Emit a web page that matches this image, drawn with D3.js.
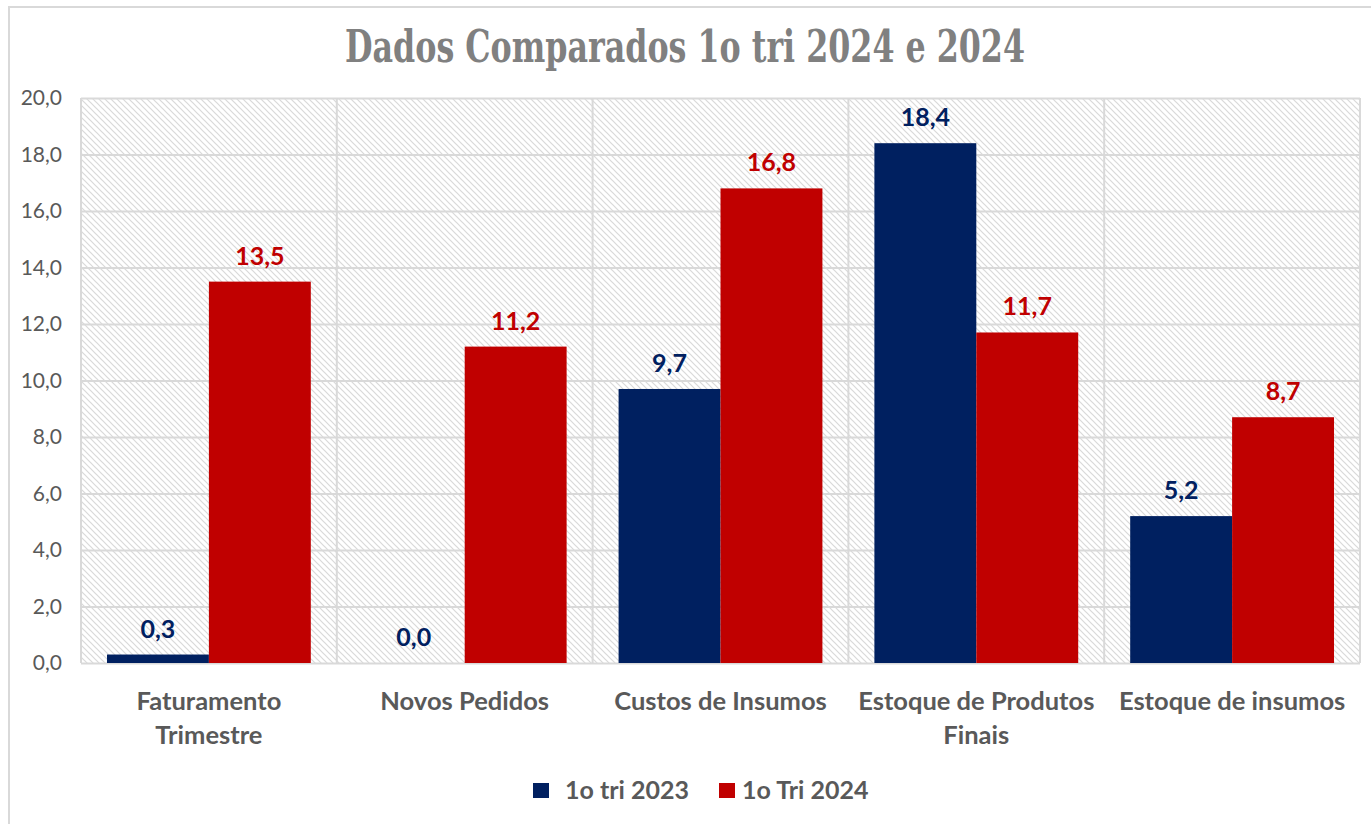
<!DOCTYPE html>
<html>
<head>
  <meta charset="utf-8">
  <title>Dados Comparados</title>
  <script src="https://d3js.org/d3.v7.min.js"></script>
  <style>
    body { margin: 0; background: #fff; }
  </style>
</head>
<body>
  <div id="chart"></div>
<script>
  // data
  const categories = [
    ["Faturamento", "Trimestre"],
    ["Novos Pedidos"],
    ["Custos de Insumos"],
    ["Estoque de Produtos", "Finais"],
    ["Estoque de insumos"]
  ];
  const seriesNames = ["1o tri 2023", "1o Tri 2024"];
  const values2023 = [0.3, 0.0, 9.7, 18.4, 5.2];
  const values2024 = [13.5, 11.2, 16.8, 11.7, 8.7];
  const yTicks = [0, 2, 4, 6, 8, 10, 12, 14, 16, 18, 20];
  const colors = ["#002060", "#C00000"];

  const W = 1371, H = 824;
  const plot = {left: 81, right: 1360, top: 98, bottom: 663};
  const font = "Lato, 'Open Sans', sans-serif";

  const svg = d3.select("#chart").append("svg")
    .attr("width", W).attr("height", H);

  // hatch pattern for the plot background
  const defs = svg.append("defs");
  const pat = defs.append("pattern")
    .attr("id", "hatch")
    .attr("patternUnits", "userSpaceOnUse")
    .attr("width", 6).attr("height", 6);
  pat.append("rect").attr("width", 6).attr("height", 6).attr("fill", "#fff");
  pat.append("path")
    .attr("d", "M-1,-1 L7,7 M-1,5 L1,7 M5,-1 L7,1")
    .attr("stroke", "#d9d9d9")
    .attr("stroke-width", 1.2);

  // outer chart border
  svg.append("path")
    .attr("d", `M9,${H} L9,7 L${W},7`)
    .attr("fill", "none")
    .attr("stroke", "#d9d9d9")
    .attr("stroke-width", 2);

  // title
  svg.append("text")
    .attr("x", 685).attr("y", 62)
    .attr("text-anchor", "middle")
    .attr("font-family", "'DejaVu Serif Condensed', 'DejaVu Serif', serif")
    .attr("font-weight", "bold")
    .attr("font-size", 45)
    .attr("fill", "#808080")
    .attr("textLength", 680)
    .attr("lengthAdjust", "spacingAndGlyphs")
    .text("Dados Comparados 1o tri 2024 e 2024");

  const x = d3.scaleBand()
    .domain(d3.range(categories.length))
    .range([plot.left, plot.right])
    .paddingInner(0).paddingOuter(0);

  const xInner = d3.scaleBand()
    .domain([0, 1])
    .range([0, x.bandwidth()])
    .paddingOuter(0.255).paddingInner(0);

  const y = d3.scaleLinear()
    .domain([0, 20])
    .range([plot.bottom, plot.top]);

  // background
  svg.append("rect")
    .attr("x", plot.left).attr("y", plot.top)
    .attr("width", plot.right - plot.left)
    .attr("height", plot.bottom - plot.top)
    .attr("fill", "url(#hatch)");

  // horizontal gridlines + y labels
  const yAxis = svg.append("g")
    .attr("transform", `translate(${plot.left},0)`)
    .call(d3.axisLeft(y).tickValues(yTicks)
      .tickSize(-(plot.right - plot.left))
      .tickPadding(19)
      .tickFormat(d => d3.format(".1f")(d).replace(".", ",")));
  yAxis.select(".domain").remove();
  yAxis.selectAll("line").attr("stroke", "#d9d9d9").attr("stroke-width", 2);
  yAxis.selectAll("text")
    .attr("font-family", font)
    .attr("font-size", 21)
    .attr("fill", "#595959");

  // vertical gridlines (category boundaries)
  const vLines = d3.range(categories.length + 1).map(i =>
    i < categories.length ? x(i) : x(i - 1) + x.bandwidth());
  svg.append("g").selectAll("line")
    .data(vLines)
    .join("line")
    .attr("x1", d => d).attr("x2", d => d)
    .attr("y1", plot.top).attr("y2", plot.bottom)
    .attr("stroke", "#d9d9d9")
    .attr("stroke-width", 2);

  // bars
  const series = [values2023, values2024];
  series.forEach((vals, s) => {
    const g = svg.append("g");
    g.selectAll("rect")
      .data(vals)
      .join("rect")
      .attr("x", (d, i) => x(i) + xInner(s))
      .attr("y", d => y(d))
      .attr("width", xInner.bandwidth())
      .attr("height", d => y(0) - y(d))
      .attr("fill", colors[s]);
    g.selectAll("text")
      .data(vals)
      .join("text")
      .attr("x", (d, i) => x(i) + xInner(s) + xInner.bandwidth() / 2)
      .attr("y", d => y(d) - 17)
      .attr("text-anchor", "middle")
      .attr("font-family", font)
      .attr("font-weight", "bold")
      .attr("font-size", 25)
      .attr("fill", colors[s])
      .text(d => d3.format(".1f")(d).replace(".", ","));
  });

  // category labels
  const catG = svg.append("g");
  categories.forEach((lines, i) => {
    const t = catG.append("text")
      .attr("x", x(i) + x.bandwidth() / 2)
      .attr("y", 710)
      .attr("text-anchor", "middle")
      .attr("font-family", font)
      .attr("font-weight", "bold")
      .attr("font-size", 25.5)
      .attr("fill", "#595959");
    lines.forEach((ln, j) => {
      t.append("tspan")
        .attr("x", x(i) + x.bandwidth() / 2)
        .attr("dy", j === 0 ? 0 : 34)
        .text(ln);
    });
  });

  // legend
  const legendItems = [
    {name: seriesNames[0], color: colors[0], x: 533, tx: 565},
    {name: seriesNames[1], color: colors[1], x: 719, tx: 742}
  ];
  const leg = svg.append("g");
  legendItems.forEach(d => {
    leg.append("rect")
      .attr("x", d.x).attr("y", 783)
      .attr("width", 16).attr("height", 15)
      .attr("fill", d.color);
    leg.append("text")
      .attr("x", d.tx)
      .attr("y", 799)
      .attr("font-family", font)
      .attr("font-weight", "bold")
      .attr("font-size", 25)
      .attr("fill", "#595959")
      .text(d.name);
  });
</script>
</body>
</html>
